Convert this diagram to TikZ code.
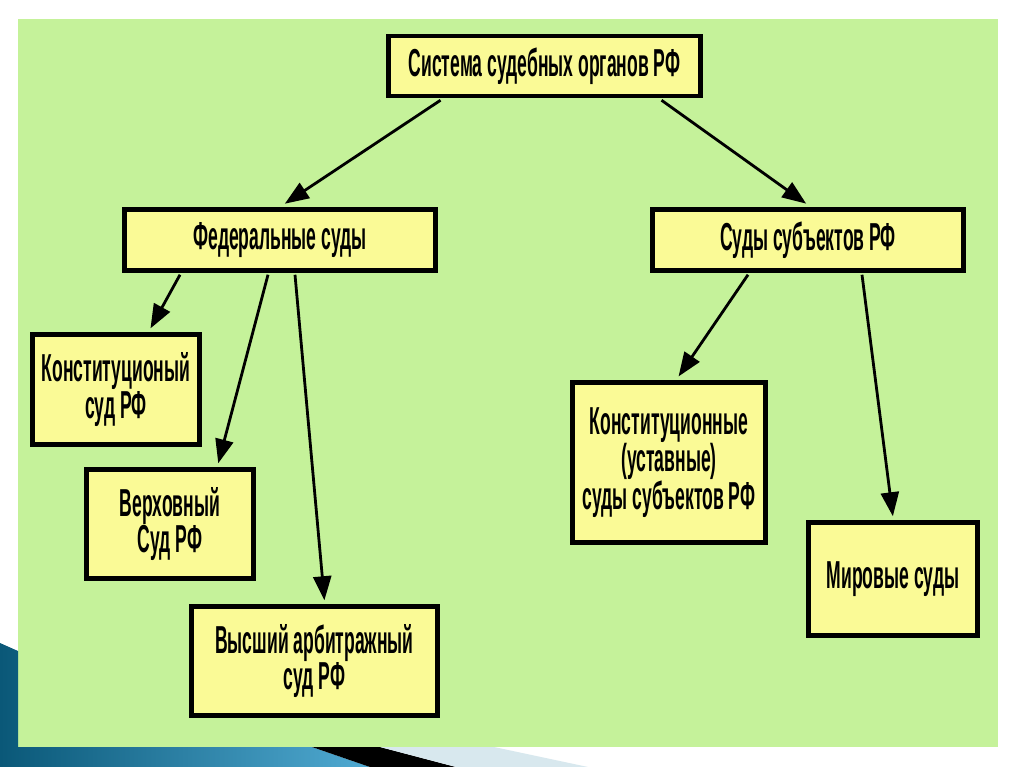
\documentclass[tikz,border=0pt]{standalone}
\usepackage{fontspec}
\newfontfamily\condfont[FakeStretch=0.45]{Liberation Sans Bold}
\usetikzlibrary{arrows.meta}
\definecolor{bggreen}{RGB}{197,242,154}
\definecolor{boxyellow}{RGB}{250,250,150}
\definecolor{tealdark}{RGB}{10,88,120}
\definecolor{teallight}{RGB}{80,170,210}
\definecolor{paleblue}{RGB}{216,232,238}
\tikzset{
  box/.style={draw=black, line width=4.5pt, fill=boxyellow, align=center,
    font=\condfont\fontsize{39}{33}\selectfont, inner sep=0pt},
  arr/.style={line width=2.8pt, -{Triangle[length=24pt,width=18pt]}, shorten >=1pt}
}
\begin{document}
\begin{tikzpicture}[x=1pt,y=-1pt]
\useasboundingbox (0,0) rectangle (1024,767);
\fill[white] (0,0) rectangle (1024,767);
\fill[bggreen] (18,19) rectangle (998,747);
% decorative swoosh
\shade[left color=tealdark, right color=teallight] (0,643) -- (18,651) -- (18,747) -- (312,747) -- (370,767) -- (0,767) -- cycle;
\fill[black] (312,747) -- (380,747) -- (456,767) -- (370,767) -- cycle;
\fill[paleblue] (380,747) -- (494,747) -- (588,767) -- (456,767) -- cycle;
% boxes
\node[box, minimum width=312pt, minimum height=60pt] (top) at (544.5,66) {Система судебных органов РФ};
\node[box, minimum width=311pt, minimum height=61pt] (fed) at (280,240) {Федеральные суды};
\node[box, minimum width=311pt, minimum height=61pt] (subj) at (808,240) {Суды субъектов РФ};
\node[box, minimum width=167pt, minimum height=110pt] (ks) at (116,389.5) {Конституционый\\суд РФ};
\node[box, minimum width=167pt, minimum height=109pt] (vs) at (170,524) {Верховный\\Суд РФ};
\node[box, minimum width=246pt, minimum height=109pt] (vas) at (314.5,661) {Высший арбитражный\\суд РФ};
\node[box, minimum width=193pt, minimum height=160pt] (kus) at (669,462.5) {Конституционные\\(уставные)\\суды субъектов РФ};
\node[box, minimum width=169pt, minimum height=113pt] (mir) at (893,579) {Мировые суды};
% arrows
\draw[arr] ([xshift=-104pt,yshift=-2pt]top.south) -- ([xshift=4pt,yshift=3pt]fed.north);
\draw[arr] ([xshift=117pt,yshift=-2pt]top.south) -- ([xshift=-1pt,yshift=3pt]subj.north);
\draw[arr] ([xshift=-100pt,yshift=-2pt]fed.south) -- ([xshift=34pt,yshift=3pt]ks.north);
\draw[arr] ([xshift=-12pt,yshift=-2pt]fed.south) -- ([xshift=48pt,yshift=3pt]vs.north);
\draw[arr] ([xshift=15pt,yshift=-2pt]fed.south) -- ([xshift=10pt,yshift=3pt]vas.north);
\draw[arr] ([xshift=-60pt,yshift=-2pt]subj.south) -- ([xshift=9pt,yshift=3pt]kus.north);
\draw[arr] ([xshift=54pt,yshift=-2pt]subj.south) -- ([xshift=0pt,yshift=3pt]mir.north);
\end{tikzpicture}
\end{document}
